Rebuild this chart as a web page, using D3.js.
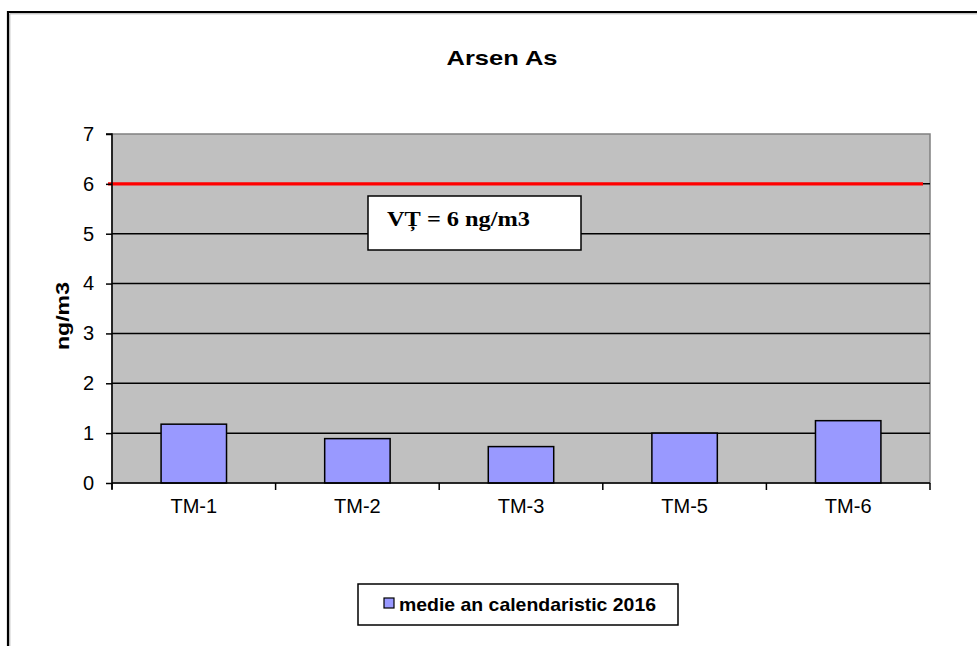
<!DOCTYPE html>
<html>
<head>
<meta charset="utf-8">
<script src="https://cdn.jsdelivr.net/npm/d3@7"></script>
<style>
  html, body { margin: 0; padding: 0; background: #ffffff; }
  svg { display: block; }
</style>
</head>
<body>
<div id="chart"></div>
<script>
// ---- data ----
const categories = ["TM-1", "TM-2", "TM-3", "TM-5", "TM-6"];
const values = [1.18, 0.89, 0.73, 1.0, 1.25];
const yTicks = [0, 1, 2, 3, 4, 5, 6, 7];
const limitValue = 6;
const title = "Arsen As";
const yTitle = "ng/m3";
const limitLabel = "VȚ = 6 ng/m3";
const seriesName = "medie an calendaristic 2016";

// ---- layout ----
const W = 977, H = 646;
const plot = { left: 112, right: 930, top: 134, bottom: 483 };

const svg = d3.select("#chart").append("svg")
  .attr("width", W).attr("height", H);

// outer frame
svg.append("path")
  .attr("d", `M8,${H} V12 H${W}`)
  .attr("fill", "none").attr("stroke", "#000").attr("stroke-width", 2.2);
svg.append("path")
  .attr("d", `M9.8,${H} V13.8 H${W}`)
  .attr("fill", "none").attr("stroke", "#aaa").attr("stroke-width", 1);

const x = d3.scaleBand().domain(categories).range([plot.left, plot.right]).padding(0);
const y = d3.scaleLinear().domain([0, 7]).range([plot.bottom, plot.top]);

// plot background
svg.append("rect")
  .attr("x", plot.left).attr("y", plot.top)
  .attr("width", plot.right - plot.left).attr("height", plot.bottom - plot.top)
  .attr("fill", "#c0c0c0").attr("stroke", "#808080").attr("stroke-width", 1.5);

// gridlines
svg.append("g").selectAll("line")
  .data(yTicks.filter(d => d > 0 && d < 7))
  .join("line")
  .attr("x1", plot.left).attr("x2", plot.right)
  .attr("y1", d => y(d)).attr("y2", d => y(d))
  .attr("stroke", "#000").attr("stroke-width", 1.5);

// bars
const bw = x.bandwidth() * 0.4;
svg.append("g").selectAll("rect")
  .data(categories)
  .join("rect")
  .attr("x", (d) => x(d) + x.bandwidth() / 2 - bw / 2)
  .attr("y", (d, i) => y(values[i]))
  .attr("width", bw)
  .attr("height", (d, i) => y(0) - y(values[i]))
  .attr("fill", "#9999ff").attr("stroke", "#000").attr("stroke-width", 1.5);

// limit line
svg.append("line")
  .attr("x1", plot.left - 4).attr("x2", plot.right - 7)
  .attr("y1", y(limitValue)).attr("y2", y(limitValue))
  .attr("stroke", "#ff0000").attr("stroke-width", 3.2);

// y axis
const yAxis = d3.axisLeft(y).tickValues(yTicks).tickSize(6).tickPadding(12).tickFormat(d3.format("d"));
const gy = svg.append("g").attr("transform", `translate(${plot.left},0)`).call(yAxis);
gy.select(".domain").attr("stroke", "#000").attr("stroke-width", 1.5)
  .attr("d", `M-6,${y(7)}H0V${y(0) + 6}`);
gy.selectAll(".tick line").attr("stroke", "#000").attr("stroke-width", 1.5);
gy.selectAll(".tick text")
  .attr("font-family", "'Liberation Sans', Arial, sans-serif")
  .attr("font-size", 20).attr("fill", "#000");

// x axis
const xAxis = d3.axisBottom(x).tickSize(0).tickPadding(16);
const gx = svg.append("g").attr("transform", `translate(0,${plot.bottom})`).call(xAxis);
gx.select(".domain").attr("stroke", "#000").attr("stroke-width", 1.5)
  .attr("d", `M${plot.left},0H${plot.right}`);
gx.selectAll(".tick text")
  .attr("font-family", "'Liberation Sans', Arial, sans-serif")
  .attr("font-size", 20).attr("fill", "#000");
// category boundary ticks
const bounds = categories.map(c => x(c)).concat([x.range()[1]]);
gx.append("g").selectAll("line").data(bounds).join("line")
  .attr("x1", d => d).attr("x2", d => d).attr("y1", 0).attr("y2", 7)
  .attr("stroke", "#000").attr("stroke-width", 1.5);

// title
svg.append("text")
  .attr("x", 502).attr("y", 65).attr("text-anchor", "middle")
  .attr("font-family", "'Liberation Sans', Arial, sans-serif")
  .attr("font-weight", "bold").attr("font-size", 21)
  .attr("textLength", 111).attr("lengthAdjust", "spacingAndGlyphs")
  .text(title);

// y title
svg.append("text")
  .attr("transform", `translate(69,316) rotate(-90)`)
  .attr("text-anchor", "middle")
  .attr("font-family", "'Liberation Sans', Arial, sans-serif")
  .attr("font-weight", "bold").attr("font-size", 18)
  .attr("textLength", 68).attr("lengthAdjust", "spacingAndGlyphs")
  .text(yTitle);

// limit label box
svg.append("rect")
  .attr("x", 368).attr("y", 196).attr("width", 213).attr("height", 54)
  .attr("fill", "#fff").attr("stroke", "#000").attr("stroke-width", 1.5);
svg.append("text")
  .attr("x", 387).attr("y", 226)
  .attr("font-family", "'Liberation Serif', 'Times New Roman', serif")
  .attr("font-weight", "bold").attr("font-size", 22)
  .attr("textLength", 143).attr("lengthAdjust", "spacingAndGlyphs")
  .text(limitLabel);

// legend
svg.append("rect")
  .attr("x", 358).attr("y", 584).attr("width", 320).attr("height", 41)
  .attr("fill", "#fff").attr("stroke", "#000").attr("stroke-width", 1.5);
svg.append("rect")
  .attr("x", 384).attr("y", 598).attr("width", 10).attr("height", 10)
  .attr("fill", "#9999ff").attr("stroke", "#000").attr("stroke-width", 1.2);
svg.append("text")
  .attr("x", 399).attr("y", 611)
  .attr("font-family", "'Liberation Sans', Arial, sans-serif")
  .attr("font-weight", "bold").attr("font-size", 19)
  .attr("textLength", 257).attr("lengthAdjust", "spacingAndGlyphs")
  .text(seriesName);
</script>
</body>
</html>
